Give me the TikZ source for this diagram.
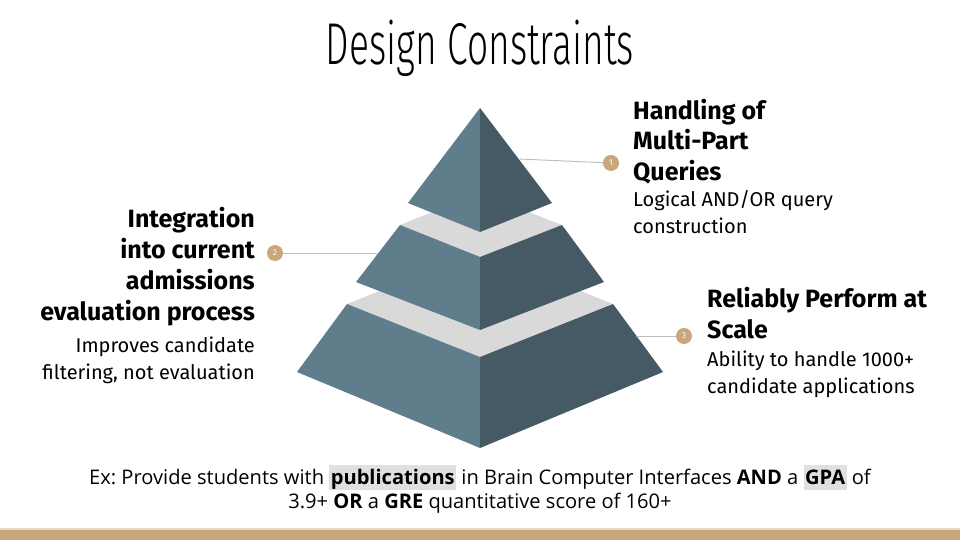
\documentclass[tikz,border=0pt]{standalone}
\usepackage{graphicx}
\usepackage{fontspec}
\setmainfont{Fira Sans}
\newfontfamily\titlefont{Fira Sans Light}
\newfontfamily\exfont{Open Sans}
\definecolor{leftface}{HTML}{607D8B}
\definecolor{rightface}{HTML}{455A64}
\definecolor{band}{HTML}{D9D9D9}
\definecolor{tan}{HTML}{C9A67C}
\definecolor{tanlight}{HTML}{E8D6C0}
\definecolor{conn}{HTML}{BDBDBD}
\definecolor{hl}{HTML}{E0E0E0}
\newcommand\hlbox[1]{{\setlength\fboxsep{0pt}\colorbox{hl}{\kern1.5pt\rule[-5pt]{0pt}{25pt}#1\kern1.5pt}}}
\frenchspacing
\begin{document}
\begin{tikzpicture}[x=1pt,y=-1pt,
  numcirc/.style={circle, fill=tan, minimum size=16pt, inner sep=0pt, text=white, font=\fontsize{8.5}{8.5}\selectfont},
  connline/.style={draw=conn, line width=0.9pt},
  headtxt/.style={inner sep=0pt, font=\bfseries\fontsize{25}{31}\selectfont},
  desctxt/.style={inner sep=0pt, font=\fontsize{20}{26.5}\selectfont}]
\useasboundingbox (0,0) rectangle (960,540);
\fill[white] (0,0) rectangle (960,540);
% title
\node[anchor=base, inner sep=0pt, font=\titlefont\fontsize{59}{59}\selectfont] (title) at (480,65) {\scalebox{0.63}[1]{Design Constraints}};
% pyramid tier 3
\fill[band] (347,304) -- (480,251) -- (613,304) -- (480,357) -- cycle;
\fill[leftface] (347,304) -- (480,357) -- (480,448) -- (297,372) -- cycle;
\fill[rightface] (480,357) -- (613,304) -- (663,372) -- (480,448) -- cycle;
% tier 2
\fill[band] (400,225) -- (480,193) -- (562,225) -- (480,257) -- cycle;
\fill[leftface] (400,225) -- (480,257) -- (480,330) -- (356,282) -- cycle;
\fill[rightface] (480,257) -- (562,225) -- (604,282) -- (480,330) -- cycle;
% tier 1
\fill[leftface] (480,108) -- (408,203) -- (480,232) -- cycle;
\fill[rightface] (480,108) -- (480,232) -- (552,203) -- cycle;
% numbered circles
\node[numcirc] (c1) at (611,163) {1};
\node[numcirc] (c2) at (275,253) {2};
\node[numcirc] (c3) at (684,336) {3};
\coordinate (e1) at (519,159);
\coordinate (e2) at (377,253);
\coordinate (e3) at (636,336);
\draw[connline] (e1) -- (c1);
\draw[connline] (c2) -- (e2);
\draw[connline] (e3) -- (c3);
% block 1
\node[headtxt, anchor=base west, align=left] (h1) at (633,181) {Handling of\\Multi-Part\\Queries};
\node[desctxt, anchor=base west, align=left] (d1) at (633,233) {Logical AND/OR query\\construction};
% block 2
\node[headtxt, anchor=base east, align=right] (h2) at (255,320) {Integration\\into current\\admissions\\evaluation process};
\node[desctxt, anchor=base east, align=right] (d2) at (255,379) {Improves candidate\\filtering, not evaluation};
% block 3
\node[headtxt, anchor=base west, align=left] (h3) at (707,338) {Reliably Perform at\\Scale};
\node[desctxt, anchor=base west, align=left] (d3) at (707,393) {Ability to handle 1000+\\candidate applications};
% example text
\node[anchor=base, align=center, inner sep=0pt, font=\exfont\fontsize{20.1}{23.5}\selectfont] (ex) at (480,508) {Ex: Provide students with \hlbox{\textbf{publications}} in Brain Computer Interfaces \textbf{AND} a \hlbox{\textbf{GPA}} of\\3.9+ \textbf{OR} a \textbf{GRE} quantitative score of 160+};
% bottom bar
\fill[tanlight] (0,528) rectangle (960,530);
\fill[tan] (0,530) rectangle (960,540);
\end{tikzpicture}
\end{document}
